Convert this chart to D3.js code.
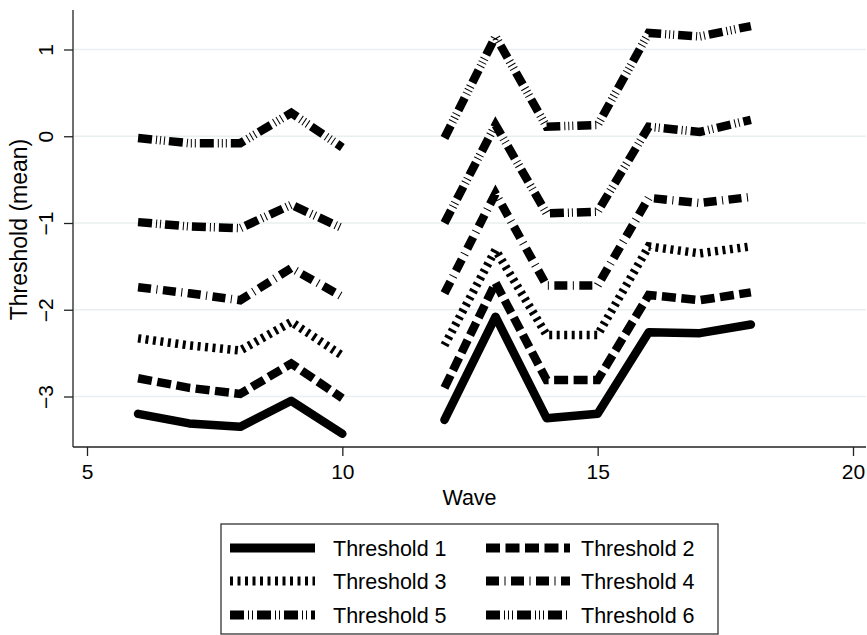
<!DOCTYPE html>
<html>
<head>
<meta charset="utf-8">
<script src="https://cdn.jsdelivr.net/npm/d3@7"></script>
<style>
  body { margin: 0; background: #fff; }
  svg { display: block; font-family: "Liberation Sans", Arial, sans-serif; }
</style>
</head>
<body>
<svg id="chart"></svg>
<script>
// data (wave 11 is missing)
const waves = [6, 7, 8, 9, 10, 11, 12, 13, 14, 15, 16, 17, 18];
const threshold1 = [-3.20, -3.31, -3.35, -3.05, -3.43, null, -3.27, -2.08, -3.25, -3.20, -2.26, -2.27, -2.17];
const threshold2 = [-2.79, -2.90, -2.97, -2.62, -3.02, null, -2.90, -1.69, -2.81, -2.81, -1.83, -1.89, -1.80];
const threshold3 = [-2.33, -2.41, -2.47, -2.14, -2.53, null, -2.41, -1.31, -2.29, -2.29, -1.27, -1.35, -1.27];
const threshold4 = [-1.74, -1.81, -1.89, -1.52, -1.85, null, -1.81, -0.66, -1.72, -1.72, -0.71, -0.77, -0.70];
const threshold5 = [-0.99, -1.04, -1.06, -0.79, -1.06, null, -1.00, 0.13, -0.89, -0.87, 0.11, 0.05, 0.19];
const threshold6 = [-0.02, -0.08, -0.08, 0.27, -0.13, null, -0.02, 1.15, 0.11, 0.13, 1.19, 1.15, 1.27];
const seriesNames = ["Threshold 1", "Threshold 2", "Threshold 3", "Threshold 4", "Threshold 5", "Threshold 6"];
const xTicks = [5, 10, 15, 20];
const yTicks = [-3, -2, -1, 0, 1];

const allSeries = [threshold1, threshold2, threshold3, threshold4, threshold5, threshold6];
const dashes = [null, "14,5.5", "3,4.5", "13,5.5,1,5.5", "14,4,1,3,1,4", "14,4,1,3,1,3,1,4"];

const width = 867, height = 635;
const plot = {left: 73, right: 866, top: 10, bottom: 447};

const svg = d3.select("#chart").attr("width", width).attr("height", height);

const x = d3.scaleLinear().domain([5, 20]).range([87, 853]);
const y = d3.scaleLinear().domain([-3, 1]).range([396.5, 49.5]);

// gridlines
svg.append("g").selectAll("line")
    .data(yTicks)
    .enter().append("line")
    .attr("x1", plot.left).attr("x2", plot.right)
    .attr("y1", d => y(d)).attr("y2", d => y(d))
    .attr("stroke", "#e8eff1").attr("stroke-width", 1.5);

// axes
const yAxis = svg.append("g")
    .attr("transform", `translate(${plot.left},0)`)
    .call(d3.axisLeft(y).tickValues(yTicks).tickSize(9).tickFormat(d => d < 0 ? "\u2212" + Math.abs(d) : d));
yAxis.select(".domain").attr("d", `M0,${plot.top}V${plot.bottom}`);
yAxis.selectAll("line, path").attr("stroke", "#222").attr("stroke-width", 1.3);
yAxis.selectAll("text")
    .attr("font-size", 21).attr("fill", "#000")
    .attr("transform", "translate(-20,0) rotate(-90)")
    .attr("x", 0).attr("y", 0).attr("dy", 0)
    .attr("text-anchor", "middle");

const xAxis = svg.append("g")
    .attr("transform", `translate(0,${plot.bottom})`)
    .call(d3.axisBottom(x).tickValues(xTicks).tickSize(9));
xAxis.select(".domain").attr("d", `M${plot.left},0H${plot.right}`);
xAxis.selectAll("line, path").attr("stroke", "#222").attr("stroke-width", 1.3);
xAxis.selectAll("text").attr("font-size", 21).attr("fill", "#000")
    .attr("y", 32).attr("dy", 0);

svg.append("text")
    .attr("transform", `translate(27,${(138 + 321) / 2}) rotate(-90)`)
    .attr("text-anchor", "middle")
    .attr("font-size", 23)
    .text("Threshold (mean)");

svg.append("text")
    .attr("x", (plot.left + plot.right) / 2).attr("y", 505)
    .attr("text-anchor", "middle")
    .attr("font-size", 21.5)
    .text("Wave");

// lines
const line = d3.line()
    .defined(d => d[1] !== null)
    .x(d => x(d[0]))
    .y(d => y(d[1]));

svg.append("g").selectAll("path")
    .data(allSeries)
    .enter().append("path")
    .attr("d", s => line(waves.map((w, i) => [w, s[i]])))
    .attr("fill", "none")
    .attr("stroke", "#000")
    .attr("stroke-width", 8.5)
    .attr("stroke-linecap", (d, i) => i === 0 ? "round" : "butt")
    .attr("stroke-linejoin", (d, i) => i === 0 ? "round" : "miter")
    .attr("stroke-dasharray", (d, i) => dashes[i]);

// legend
const legend = svg.append("g");
legend.append("rect")
    .attr("x", 221).attr("y", 524).attr("width", 497).attr("height", 110)
    .attr("fill", "#fff").attr("stroke", "#333").attr("stroke-width", 1.3);

const rowsY = [548, 581, 615];
const items = legend.selectAll("g.item")
    .data(seriesNames)
    .enter().append("g")
    .attr("transform", (d, i) => `translate(${i % 2 === 0 ? 230 : 486},${rowsY[Math.floor(i / 2)]})`);

items.append("line")
    .attr("x1", 0).attr("x2", (d, i) => i % 2 === 0 ? 85 : 84)
    .attr("y1", 0).attr("y2", 0)
    .attr("stroke", "#000").attr("stroke-width", 9)
    .attr("stroke-dasharray", (d, i) => dashes[i]);

items.append("text")
    .attr("x", (d, i) => i % 2 === 0 ? 103 : 95)
    .attr("dy", "0.35em")
    .attr("font-size", 21.5)
    .text(d => d);
</script>
</body>
</html>
